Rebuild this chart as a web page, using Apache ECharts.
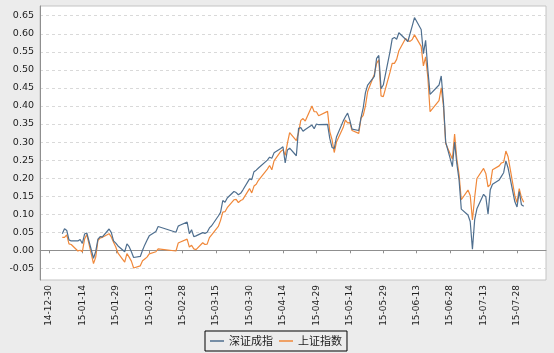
<!DOCTYPE html>
<html>
<head>
<meta charset="utf-8">
<script src="https://cdn.jsdelivr.net/npm/echarts@6/dist/echarts.min.js"></script>
<style>
  html, body { margin: 0; padding: 0; background: #ececec; }
  #chart { width: 554px; height: 353px; }
</style>
</head>
<body>
<div id="chart"></div>
<script>
// trading days, Jan - Jul 2015
var dates = [
  '2015-01-05','2015-01-06','2015-01-07','2015-01-08','2015-01-09','2015-01-12','2015-01-13','2015-01-14','2015-01-15','2015-01-16',
  '2015-01-19','2015-01-20','2015-01-21','2015-01-22','2015-01-23','2015-01-26','2015-01-27','2015-01-28','2015-01-29','2015-01-30',
  '2015-02-02','2015-02-03','2015-02-04','2015-02-05','2015-02-06','2015-02-09','2015-02-10','2015-02-11','2015-02-12','2015-02-13',
  '2015-02-16','2015-02-17','2015-02-25','2015-02-26','2015-02-27',
  '2015-03-02','2015-03-03','2015-03-04','2015-03-05','2015-03-06','2015-03-09','2015-03-10','2015-03-11','2015-03-12','2015-03-13',
  '2015-03-16','2015-03-17','2015-03-18','2015-03-19','2015-03-20','2015-03-23','2015-03-24','2015-03-25','2015-03-26','2015-03-27',
  '2015-03-30','2015-03-31',
  '2015-04-01','2015-04-02','2015-04-03','2015-04-07','2015-04-08','2015-04-09','2015-04-10','2015-04-13','2015-04-14','2015-04-15',
  '2015-04-16','2015-04-17','2015-04-20','2015-04-21','2015-04-22','2015-04-23','2015-04-24','2015-04-27','2015-04-28','2015-04-29',
  '2015-04-30',
  '2015-05-04','2015-05-05','2015-05-06','2015-05-07','2015-05-08','2015-05-11','2015-05-12','2015-05-13','2015-05-14','2015-05-15',
  '2015-05-18','2015-05-19','2015-05-20','2015-05-21','2015-05-22','2015-05-25','2015-05-26','2015-05-27','2015-05-28','2015-05-29',
  '2015-06-01','2015-06-02','2015-06-03','2015-06-04','2015-06-05','2015-06-08','2015-06-09','2015-06-10','2015-06-11','2015-06-12',
  '2015-06-15','2015-06-16','2015-06-17','2015-06-18','2015-06-19','2015-06-23','2015-06-24','2015-06-25','2015-06-26','2015-06-29',
  '2015-06-30',
  '2015-07-01','2015-07-02','2015-07-03','2015-07-06','2015-07-07','2015-07-08','2015-07-09','2015-07-10','2015-07-13','2015-07-14',
  '2015-07-15','2015-07-16','2015-07-17','2015-07-20','2015-07-21','2015-07-22','2015-07-23','2015-07-24','2015-07-27','2015-07-28',
  '2015-07-29','2015-07-30','2015-07-31'
];

// 深证成指
var szValues = [
  0.046, 0.060, 0.055, 0.029, 0.026, 0.026, 0.030, 0.019, 0.045, 0.048,
  -0.022, -0.003, 0.031, 0.038, 0.037, 0.059, 0.049, 0.026, 0.020, 0.012,
  -0.004, 0.018, 0.010, -0.004, -0.020, -0.017, 0.000, 0.015, 0.028, 0.040,
  0.052, 0.066, 0.050, 0.067, 0.070,
  0.078, 0.046, 0.057, 0.038, 0.040, 0.049, 0.047, 0.050, 0.062, 0.068,
  0.095, 0.105, 0.138, 0.133, 0.145, 0.163, 0.160, 0.154, 0.158, 0.167,
  0.198, 0.196,
  0.218, 0.222, 0.228, 0.250, 0.258, 0.255, 0.270, 0.282, 0.287, 0.242,
  0.278, 0.283, 0.262, 0.338, 0.340, 0.330, 0.335, 0.347, 0.337, 0.350,
  0.348,
  0.349, 0.310, 0.285, 0.282, 0.314, 0.358, 0.370, 0.380, 0.360, 0.336,
  0.332, 0.367, 0.395, 0.437, 0.458, 0.482, 0.532, 0.540, 0.448, 0.458,
  0.550, 0.586, 0.590, 0.585, 0.603, 0.585, 0.578, 0.600, 0.622, 0.645,
  0.612, 0.545, 0.582, 0.500, 0.432, 0.458, 0.483, 0.410, 0.300, 0.232,
  0.300,
  0.240, 0.195, 0.114, 0.098, 0.080, 0.003, 0.085, 0.115, 0.155, 0.148,
  0.100, 0.168, 0.183, 0.195, 0.205, 0.215, 0.248, 0.228, 0.135, 0.120,
  0.163, 0.126, 0.122
];

// 上证指数
var shValues = [
  0.036, 0.036, 0.043, 0.018, 0.016, -0.002, 0.000, -0.004, 0.031, 0.044,
  -0.037, -0.019, 0.028, 0.034, 0.036, 0.046, 0.037, 0.022, 0.009, -0.008,
  -0.033, -0.009, -0.019, -0.030, -0.049, -0.043, -0.029, -0.024, -0.019, -0.010,
  -0.004, 0.004, -0.002, 0.020, 0.023,
  0.031, 0.009, 0.014, 0.004, 0.002, 0.021, 0.016, 0.017, 0.035, 0.043,
  0.066, 0.083, 0.106, 0.107, 0.118, 0.140, 0.141, 0.132, 0.138, 0.141,
  0.171, 0.159,
  0.178, 0.183, 0.194, 0.225, 0.235, 0.223, 0.248, 0.274, 0.279, 0.263,
  0.297, 0.326, 0.304, 0.327, 0.360, 0.365, 0.358, 0.400, 0.384, 0.384,
  0.373,
  0.385, 0.329, 0.307, 0.271, 0.300, 0.340, 0.361, 0.353, 0.354, 0.332,
  0.324, 0.366, 0.374, 0.400, 0.440, 0.488, 0.518, 0.528, 0.428, 0.426,
  0.493, 0.518, 0.518, 0.529, 0.553, 0.587, 0.581, 0.579, 0.584, 0.597,
  0.565, 0.511, 0.536, 0.479, 0.384, 0.415, 0.450, 0.400, 0.296, 0.253,
  0.322,
  0.253, 0.210, 0.140, 0.167, 0.152, 0.084, 0.147, 0.199, 0.227, 0.213,
  0.176, 0.182, 0.223, 0.234, 0.242, 0.244, 0.275, 0.259, 0.152, 0.132,
  0.171, 0.146, 0.133
];

var xTicks = ['2014-12-30','2015-01-14','2015-01-29','2015-02-13','2015-02-28','2015-03-15','2015-03-30',
  '2015-04-14','2015-04-29','2015-05-14','2015-05-29','2015-06-13','2015-06-28','2015-07-13','2015-07-28'];
var yTicks = [-0.05, 0, 0.05, 0.1, 0.15, 0.2, 0.25, 0.3, 0.35, 0.4, 0.45, 0.5, 0.55, 0.6, 0.65];

function toTime(s) {
  var p = s.split('-');
  return Date.UTC(+p[0], +p[1] - 1, +p[2]);
}
function pad(n) { return n < 10 ? '0' + n : '' + n; }
function fmtDate(v) {
  var d = new Date(v);
  return pad(d.getUTCFullYear() % 100) + '-' + pad(d.getUTCMonth() + 1) + '-' + pad(d.getUTCDate());
}

var xTickTimes = xTicks.map(toTime);
var szData = dates.map(function (d, i) { return [toTime(d), szValues[i]]; });
var shData = dates.map(function (d, i) { return [toTime(d), shValues[i]]; });

var chart = echarts.init(document.getElementById('chart'));
chart.setOption({
  animation: false,
  backgroundColor: '#ececec',
  textStyle: { fontFamily: 'DejaVu Sans' },
  grid: {
    left: 40, right: 8, top: 6, bottom: 73,
    show: true,
    backgroundColor: '#ffffff',
    borderColor: '#c4c4c4',
    borderWidth: 1
  },
  legend: {
    data: ['深证成指', '上证指数'],
    left: 205,
    top: 331,
    padding: [3, 5, 3, 5],
    itemGap: 6,
    itemWidth: 14,
    itemHeight: 1.5,
    icon: 'rect',
    borderColor: '#000',
    borderWidth: 1,
    backgroundColor: '#ececec',
    textStyle: {
      fontFamily: 'Noto Sans CJK SC',
      fontSize: 11,
      color: '#222',
      lineHeight: 14
    }
  },
  xAxis: {
    type: 'value',
    min: toTime('2014-12-26'),
    max: toTime('2015-08-10'),
    axisLine: { lineStyle: { color: '#8f8f8f', width: 1 } },
    axisTick: {
      show: true,
      length: 3,
      customValues: xTickTimes,
      lineStyle: { color: '#8f8f8f' }
    },
    axisLabel: {
      customValues: xTickTimes,
      rotate: 90,
      margin: 5,
      fontSize: 9,
      color: '#222',
      formatter: fmtDate
    },
    splitLine: { show: false }
  },
  yAxis: {
    type: 'value',
    min: -0.0823,
    max: 0.677,
    axisLine: { show: true, lineStyle: { color: '#8f8f8f', width: 1 } },
    axisTick: { show: false, customValues: yTicks },
    axisLabel: {
      customValues: yTicks,
      margin: 6,
      fontSize: 9.5,
      color: '#222',
      formatter: function (v) { return v.toFixed(2); }
    },
    splitLine: {
      show: true,
      lineStyle: { color: '#d9d9d9', type: [3, 3], width: 1 }
    }
  },
  series: [
    {
      name: '深证成指',
      type: 'line',
      symbol: 'none',
      data: szData,
      lineStyle: { color: '#4f6f8f', width: 1.2 },
      itemStyle: { color: '#4f6f8f' },
      z: 3
    },
    {
      name: '上证指数',
      type: 'line',
      symbol: 'none',
      data: shData,
      lineStyle: { color: '#f0883a', width: 1.2 },
      itemStyle: { color: '#f0883a' },
      z: 2
    }
  ]
});
</script>
</body>
</html>
